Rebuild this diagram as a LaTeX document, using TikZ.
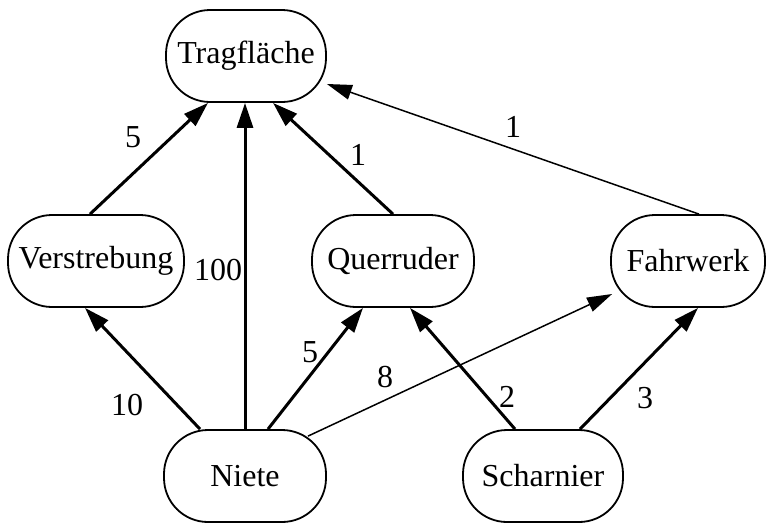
\documentclass[tikz,border=0pt]{standalone}
\usepackage{fontspec}
\setmainfont{Liberation Serif}
\usetikzlibrary{arrows.meta}
\begin{document}
\begin{tikzpicture}[x=1pt,y=-1pt,
  box/.style={draw,line width=1.8pt,rounded corners=44pt,minimum height=92pt,inner sep=0pt,font=\fontsize{32}{38}\selectfont},
  lbl/.style={inner sep=0pt,font=\fontsize{32}{38}\selectfont},
  thickarrow/.style={line width=3pt,-{Triangle[length=25pt,width=16pt]}},
  thinarrow/.style={line width=1.5pt,-{Triangle[length=25pt,width=15pt]}}]
\useasboundingbox (0,0) rectangle (767,523);
\node[box,minimum width=160pt] (T) at (246,56) {Tragfläche};
\node[box,minimum width=176pt] (V) at (96,261) {Verstrebung};
\node[box,minimum width=162pt] (Q) at (393,261) {Querruder};
\node[box,minimum width=154pt] (F) at (688,261) {Fahrwerk};
\node[box,minimum width=162pt] (N) at (245,476) {Niete};
\node[box,minimum width=160pt] (S) at (543,476) {Scharnier};

\draw[thickarrow] ([xshift=-6pt]V.north) -- ([xshift=-38pt]T.south);
\draw[thickarrow] (N.north) -- (N.north |- T.south);
\draw[thickarrow] (Q.north) -- ([xshift=27pt]T.south);
\draw[thinarrow] ([xshift=11pt]F.north) -- ([yshift=-28pt]T.east);
\draw[thickarrow] ([xshift=-45pt]N.north) -- ([xshift=-11pt]V.south);
\draw[thickarrow] ([xshift=23pt]N.north) -- ([xshift=-30pt]Q.south);
\draw[thinarrow] ([xshift=63pt,yshift=-7pt]N.north) -- ([xshift=2pt,yshift=-33pt]F.west);
\draw[thickarrow] ([xshift=-28pt]S.north) -- ([xshift=17pt]Q.south);
\draw[thickarrow] ([xshift=37pt]S.north) -- ([xshift=10pt]F.south);

\node[lbl] (l1) at (133,137) {5};
\node[lbl] (l2) at (218,270) {100};
\node[lbl] (l3) at (358,155) {1};
\node[lbl] (l4) at (513,127) {1};
\node[lbl] (l5) at (127,405) {10};
\node[lbl] (l6) at (310,352) {5};
\node[lbl] (l7) at (385,377) {8};
\node[lbl] (l8) at (507,397) {2};
\node[lbl] (l9) at (645,398) {3};
\end{tikzpicture}
\end{document}
